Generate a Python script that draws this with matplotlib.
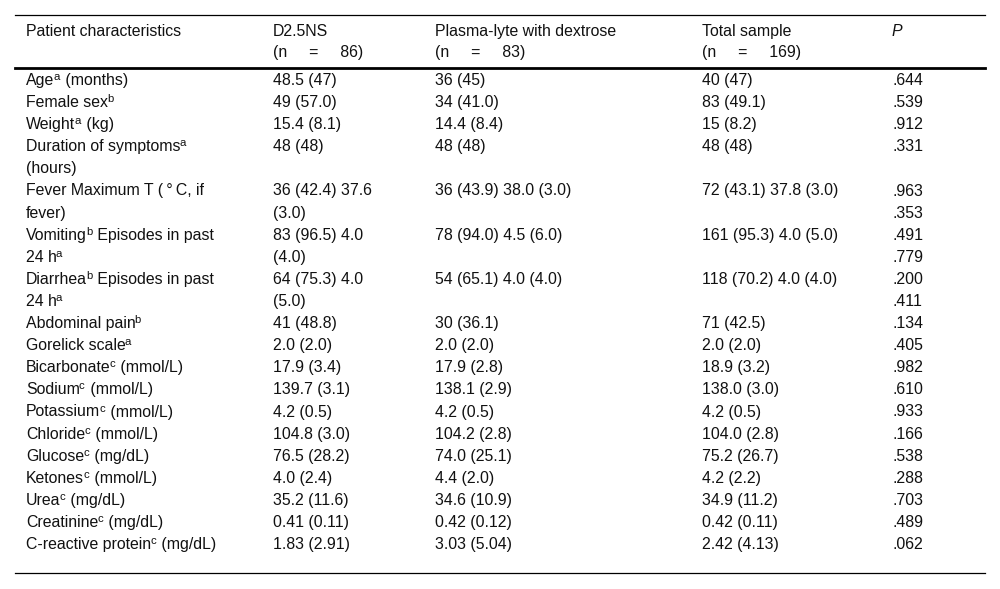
import re
import matplotlib
matplotlib.use('Agg')
from matplotlib import pyplot as plt

plt.rcParams['font.family'] = ['Liberation Sans', 'DejaVu Sans']

# Table content ("^a" marks a superscript footnote letter)
headers = ["Patient characteristics", "D2.5NS\n(n     =     86)",
           "Plasma-lyte with dextrose\n(n     =     83)",
           "Total sample\n(n     =     169)", "P"]

characteristics = [
    "Age^a (months)",
    "Female sex^b",
    "Weight^a (kg)",
    "Duration of symptoms^a\n(hours)",
    "Fever Maximum T (\u2009°\u2009C, if\nfever)",
    "Vomiting^b Episodes in past\n24 h^a",
    "Diarrhea^b Episodes in past\n24 h^a",
    "Abdominal pain^b",
    "Gorelick scale^a",
    "Bicarbonate^c (mmol/L)",
    "Sodium^c (mmol/L)",
    "Potassium^c (mmol/L)",
    "Chloride^c (mmol/L)",
    "Glucose^c (mg/dL)",
    "Ketones^c (mmol/L)",
    "Urea^c (mg/dL)",
    "Creatinine^c (mg/dL)",
    "C-reactive protein^c (mg/dL)",
]

d25ns = ["48.5 (47)", "49 (57.0)", "15.4 (8.1)", "48 (48)",
         "36 (42.4) 37.6\n(3.0)", "83 (96.5) 4.0\n(4.0)", "64 (75.3) 4.0\n(5.0)",
         "41 (48.8)", "2.0 (2.0)", "17.9 (3.4)", "139.7 (3.1)", "4.2 (0.5)",
         "104.8 (3.0)", "76.5 (28.2)", "4.0 (2.4)", "35.2 (11.6)",
         "0.41 (0.11)", "1.83 (2.91)"]

plasma = ["36 (45)", "34 (41.0)", "14.4 (8.4)", "48 (48)",
          "36 (43.9) 38.0 (3.0)", "78 (94.0) 4.5 (6.0)", "54 (65.1) 4.0 (4.0)",
          "30 (36.1)", "2.0 (2.0)", "17.9 (2.8)", "138.1 (2.9)", "4.2 (0.5)",
          "104.2 (2.8)", "74.0 (25.1)", "4.4 (2.0)", "34.6 (10.9)",
          "0.42 (0.12)", "3.03 (5.04)"]

total = ["40 (47)", "83 (49.1)", "15 (8.2)", "48 (48)",
         "72 (43.1) 37.8 (3.0)", "161 (95.3) 4.0 (5.0)", "118 (70.2) 4.0 (4.0)",
         "71 (42.5)", "2.0 (2.0)", "18.9 (3.2)", "138.0 (3.0)", "4.2 (0.5)",
         "104.0 (2.8)", "75.2 (26.7)", "4.2 (2.2)", "34.9 (11.2)",
         "0.42 (0.11)", "2.42 (4.13)"]

p_values = [".644", ".539", ".912", ".331", ".963\n.353", ".491\n.779",
            ".200\n.411", ".134", ".405", ".982", ".610", ".933", ".166",
            ".538", ".288", ".703", ".489", ".062"]

# Layout (pixel units)
col_x = [26, 273, 435, 702, 892]
line_h = 22.1
fs = 11.4
ink = '#111111'

fig = plt.figure(figsize=(10, 5.89), dpi=100)
ax = fig.add_axes([0, 0, 1, 1])
ax.set_xlim(0, 1000)
ax.set_ylim(589, 0)
ax.axis('off')
renderer = fig.canvas.get_renderer()


def draw_cell(x, y, s, **kw):
    # plain text with footnote superscripts drawn as small raised pieces
    for piece in re.split(r'(\^[abc])', s):
        if not piece:
            continue
        if piece.startswith('^'):
            t = ax.text(x - 1, y - 5, piece[1:], fontsize=fs * 0.72,
                        va='baseline', ha='left', color=ink)
            x += t.get_window_extent(renderer).width
        else:
            t = ax.text(x, y, piece, fontsize=fs, va='baseline', ha='left',
                        color=ink, **kw)
            x += t.get_window_extent(renderer).width


# rules
ax.plot([15, 985], [15, 15], color='black', lw=0.9)
ax.plot([15, 985], [68, 68], color='black', lw=2.0)
ax.plot([15, 985], [573, 573], color='black', lw=0.9)

# header
for j, h in enumerate(headers):
    for k, part in enumerate(h.split("\n")):
        draw_cell(col_x[j], 36 + 21 * k, part,
                  style='italic' if h == "P" else 'normal')

# body
columns = [characteristics, d25ns, plasma, total, p_values]
line = 0
for i in range(len(characteristics)):
    n_lines = 1
    for j, col in enumerate(columns):
        parts = col[i].split("\n")
        n_lines = max(n_lines, len(parts))
        for k, part in enumerate(parts):
            draw_cell(col_x[j], 85 + line_h * (line + k), part)
    line += n_lines

fig.savefig('out.png', dpi=100)
